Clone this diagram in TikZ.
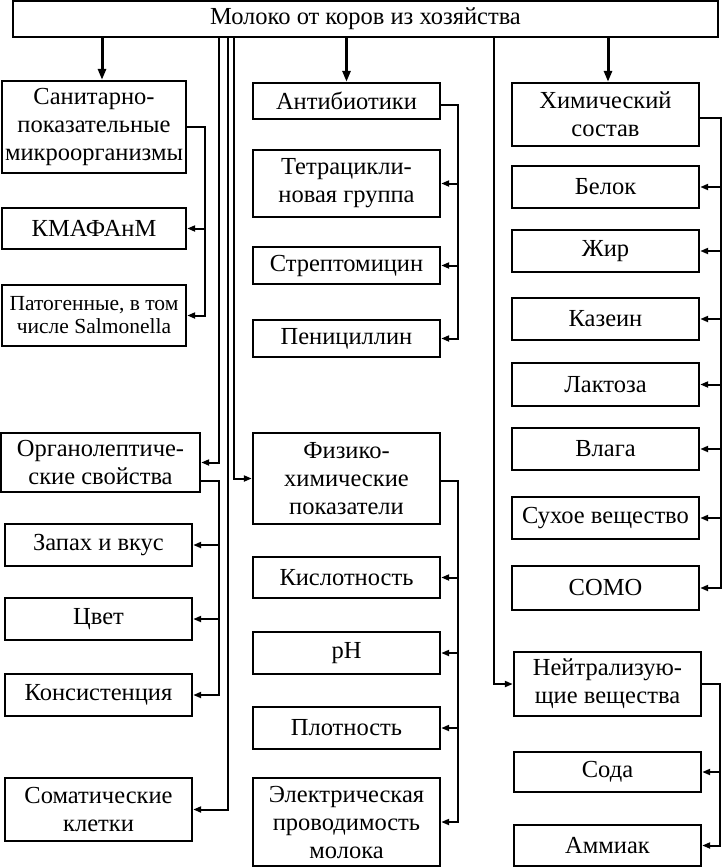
\documentclass[tikz,border=0pt]{standalone}
\usepackage{fontspec}
\setmainfont{Liberation Serif}
\usetikzlibrary{arrows.meta}

\begin{document}
\begin{tikzpicture}[x=1pt,y=-1pt,
  box/.style={draw,line width=2.4pt,inner sep=0pt,align=center,font=\fontsize{24.5}{28}\selectfont},
  small/.style={font=\fontsize{21.5}{23}\selectfont},
  link/.style={line width=2pt,-{Triangle[length=8pt,width=6pt]}},
  down/.style={line width=3pt,-{Triangle[length=11pt,width=8pt]}}]
\useasboundingbox (0,0) rectangle (722,868);
% head
\node[box,minimum width=705pt,minimum height=36pt] (top) at (365.5,19) {Молоко от коров из хозяйства};
% left column
\node[box,minimum width=184pt,minimum height=92pt] (san) at (94,127) {Санитарно-\\показательные\\микроорганизмы};
\node[box,minimum width=184pt,minimum height=41pt] (kmaf) at (94,228.5) {КМАФАнМ};
\node[box,small,minimum width=184pt,minimum height=61pt] (pat) at (94,315.5) {Патогенные, в том\\числе Salmonella};
\node[box,minimum width=199pt,minimum height=59pt] (org) at (100.5,462.5) {Органолептиче-\\ские свойства};
\node[box,minimum width=187pt,minimum height=42pt] (zap) at (98.5,545) {Запах и вкус};
\node[box,minimum width=187pt,minimum height=42pt] (cvet) at (98.5,619) {Цвет};
\node[box,minimum width=187pt,minimum height=42pt] (kons) at (98.5,695) {Консистенция};
\node[box,minimum width=187pt,minimum height=63pt] (som) at (98.5,809.5) {Соматические\\клетки};
% middle column
\node[box,minimum width=187pt,minimum height=36pt] (ant) at (346.5,101) {Антибиотики};
\node[box,minimum width=187pt,minimum height=67pt] (tet) at (346.5,183.5) {Тетрацикли-\\новая группа};
\node[box,minimum width=187pt,minimum height=37pt] (str) at (346.5,265.5) {Стрептомицин};
\node[box,minimum width=187pt,minimum height=37pt] (pen) at (346.5,338.5) {Пенициллин};
\node[box,minimum width=187pt,minimum height=91pt] (fiz) at (346.5,478.5) {Физико-\\химические\\показатели};
\node[box,minimum width=187pt,minimum height=41pt] (kisl) at (346.5,577.5) {Кислотность};
\node[box,minimum width=187pt,minimum height=42pt] (ph) at (346.5,653) {pH};
\node[box,minimum width=187pt,minimum height=42pt] (plot) at (346.5,728) {Плотность};
\node[box,minimum width=187pt,minimum height=88pt] (el) at (346.5,822) {Электрическая\\проводимость\\молока};
% right column
\node[box,minimum width=187pt,minimum height=63pt] (him) at (605.5,114.5) {Химический\\состав};
\node[box,minimum width=187pt,minimum height=42pt] (bel) at (605.5,187) {Белок};
\node[box,minimum width=187pt,minimum height=42pt] (zhir) at (605.5,251) {Жир};
\node[box,minimum width=187pt,minimum height=42pt] (kaz) at (605.5,319) {Казеин};
\node[box,minimum width=187pt,minimum height=43pt] (lakt) at (605.5,384.5) {Лактоза};
\node[box,minimum width=187pt,minimum height=42pt] (vlaga) at (605.5,449) {Влага};
\node[box,minimum width=187pt,minimum height=42pt] (suh) at (605.5,518) {Сухое вещество};
\node[box,minimum width=187pt,minimum height=44pt] (somo) at (605.5,588) {СОМО};
\node[box,minimum width=187pt,minimum height=64pt] (neut) at (607.5,684) {Нейтрализую-\\щие вещества};
\node[box,minimum width=187pt,minimum height=40pt] (soda) at (607.5,772) {Сода};
\node[box,minimum width=187pt,minimum height=41pt] (amm) at (607.5,845.5) {Аммиак};
% from the head
\draw[down] ([xshift=8pt]san.north |- top.south) -- ([xshift=8pt]san.north);
\draw[down] (ant.north |- top.south) -- (ant.north);
\draw[down] ([xshift=2.5pt]him.north |- top.south) -- ([xshift=2.5pt]him.north);
\draw[link] ([xshift=18pt]org.east |- top.south) |- (org.east);
\draw[link] ([xshift=35pt]som.east |- top.south) |- (som.east);
\draw[link] ([xshift=-18pt]fiz.west |- top.south) |- (fiz.west);
\draw[link] ([xshift=-19pt]neut.west |- top.south) |- (neut.west);
% sanitary
\draw[link] (san.east) -- ++(18,0) |- (kmaf.east);
\draw[link] (san.east) -- ++(18,0) |- (pat.east);
% organoleptic
\draw[link] ([yshift=-18pt]org.east) -- ++(18,0) |- (zap.east);
\draw[link] ([yshift=-18pt]org.east) -- ++(18,0) |- (cvet.east);
\draw[link] ([yshift=-18pt]org.east) -- ++(18,0) |- (kons.east);
% antibiotics
\draw[link] ([yshift=-4pt]ant.east) -- ++(17,0) |- (tet.east);
\draw[link] ([yshift=-4pt]ant.east) -- ++(17,0) |- (str.east);
\draw[link] ([yshift=-4pt]ant.east) -- ++(17,0) |- (pen.east);
% physico-chemical
\draw[link] ([yshift=-2.5pt]fiz.east) -- ++(17,0) |- (kisl.east);
\draw[link] ([yshift=-2.5pt]fiz.east) -- ++(17,0) |- (ph.east);
\draw[link] ([yshift=-2.5pt]fiz.east) -- ++(17,0) |- (plot.east);
\draw[link] ([yshift=-2.5pt]fiz.east) -- ++(17,0) |- (el.east);
% chemical
\draw[link] ([yshift=-3.5pt]him.east) -- ++(21,0) |- (bel.east);
\draw[link] ([yshift=-3.5pt]him.east) -- ++(21,0) |- (zhir.east);
\draw[link] ([yshift=-3.5pt]him.east) -- ++(21,0) |- (kaz.east);
\draw[link] ([yshift=-3.5pt]him.east) -- ++(21,0) |- (lakt.east);
\draw[link] ([yshift=-3.5pt]him.east) -- ++(21,0) |- (vlaga.east);
\draw[link] ([yshift=-3.5pt]him.east) -- ++(21,0) |- (suh.east);
\draw[link] ([yshift=-3.5pt]him.east) -- ++(21,0) |- (somo.east);
% neutralizing
\draw[link] (neut.east) -- ++(18,0) |- (soda.east);
\draw[link] (neut.east) -- ++(18,0) |- (amm.east);
\end{tikzpicture}
\end{document}
